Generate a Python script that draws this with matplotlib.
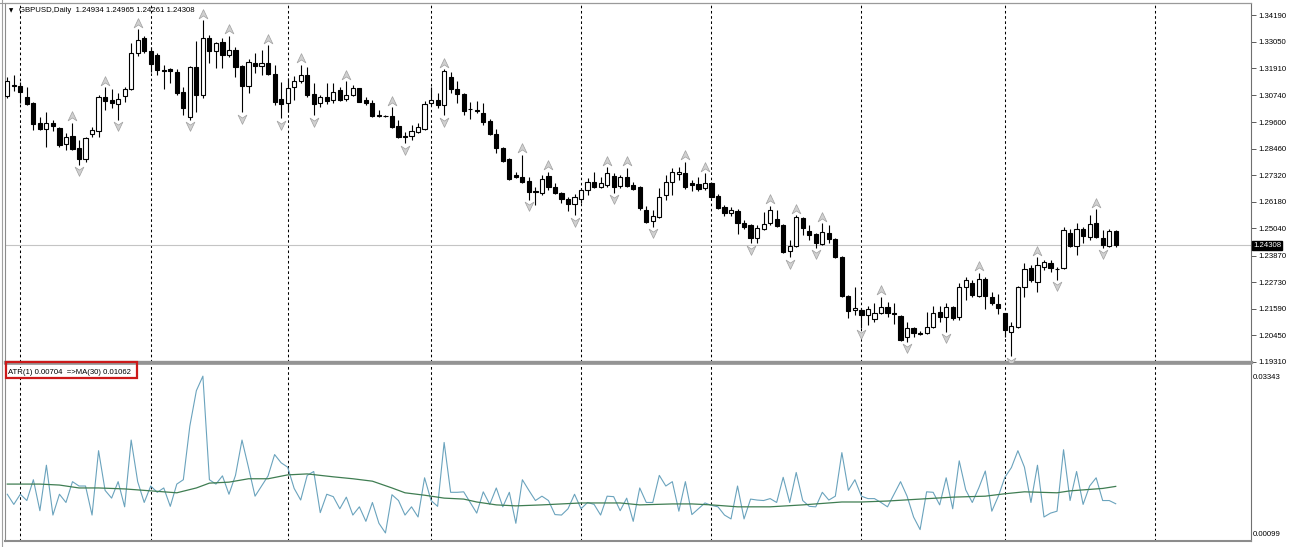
import numpy as np
import matplotlib
matplotlib.use("Agg")
import matplotlib.pyplot as plt
from matplotlib.path import Path
from matplotlib.patches import Rectangle
from matplotlib.lines import Line2D
from matplotlib.transforms import offset_copy

# ============================================================
# DATA  (GBPUSD daily)
# ============================================================
opens = [1.3072, 1.3119, 1.3115, 1.3067, 1.3042, 1.2956, 1.2930, 1.2956, 1.2935, 1.2866,
         1.2900, 1.2849, 1.2802, 1.2909, 1.2922, 1.3067, 1.3055, 1.3037, 1.3072, 1.3102,
         1.3256, 1.3320, 1.3265, 1.3247, 1.3183, 1.3187, 1.3175, 1.3089, 1.2982, 1.3196,
         1.3076, 1.3320, 1.3265, 1.3303, 1.3247, 1.3269, 1.3200, 1.3115, 1.3213, 1.3200,
         1.3213, 1.3166, 1.3059, 1.3042, 1.3110, 1.3136, 1.3162, 1.3080, 1.3042, 1.3067,
         1.3055, 1.3097, 1.3059, 1.3076, 1.3106, 1.3055, 1.3042, 1.2990, 1.2988, 1.2986,
         1.2943, 1.2900, 1.2900, 1.2917, 1.2930, 1.3042, 1.3055, 1.3033, 1.3153, 1.3102,
         1.3080, 1.3016, 1.3012, 1.2999, 1.2965, 1.2909, 1.2849, 1.2802, 1.2733, 1.2724,
         1.2707, 1.2664, 1.2656, 1.2729, 1.2681, 1.2656, 1.2630, 1.2609, 1.2630, 1.2669,
         1.2703, 1.2681, 1.2690, 1.2729, 1.2686, 1.2724, 1.2690, 1.2681, 1.2583, 1.2536,
         1.2553, 1.2647, 1.2703, 1.2737, 1.2741, 1.2699, 1.2694, 1.2677, 1.2699, 1.2643,
         1.2596, 1.2570, 1.2579, 1.2527, 1.2519, 1.2463, 1.2501, 1.2527, 1.2544, 1.2519,
         1.2407, 1.2428, 1.2548, 1.2493, 1.2480, 1.2437, 1.2484, 1.2459, 1.2381, 1.2214,
         1.2154, 1.2154, 1.2133, 1.2115, 1.2141, 1.2167, 1.2141, 1.2128, 1.2038, 1.2077,
         1.2055, 1.2055, 1.2081, 1.2146, 1.2124, 1.2167, 1.2124, 1.2253, 1.2270, 1.2214,
         1.2287, 1.2210, 1.2180, 1.2141, 1.2060, 1.2081, 1.2253, 1.2334, 1.2274, 1.2338,
         1.2356, 1.2330, 1.2334, 1.2484, 1.2428, 1.2501, 1.2467, 1.2527, 1.2463, 1.2428,
         1.24934]
highs = [1.3153, 1.3162, 1.3132, 1.3110, 1.3046, 1.2982, 1.3003, 1.2969, 1.2939, 1.2913,
         1.2956, 1.2883, 1.2896, 1.2939, 1.3076, 1.3110, 1.3102, 1.3085, 1.3110, 1.3299,
         1.3359, 1.3329, 1.3282, 1.3256, 1.3205, 1.3192, 1.3187, 1.3110, 1.3200, 1.3307,
         1.3397, 1.3333, 1.3303, 1.3320, 1.3329, 1.3282, 1.3205, 1.3230, 1.3256, 1.3269,
         1.3290, 1.3205, 1.3132, 1.3149, 1.3157, 1.3205, 1.3196, 1.3127, 1.3076, 1.3127,
         1.3127, 1.3110, 1.3136, 1.3119, 1.3108, 1.3067, 1.3055, 1.3012, 1.2991, 1.3024,
         1.2969, 1.2917, 1.2947, 1.2956, 1.3050, 1.3110, 1.3085, 1.3187, 1.3175, 1.3136,
         1.3085, 1.3046, 1.3050, 1.3042, 1.2973, 1.2930, 1.2853, 1.2806, 1.2746, 1.2819,
         1.2724, 1.2681, 1.2733, 1.2746, 1.2699, 1.2660, 1.2639, 1.2651, 1.2673, 1.2720,
         1.2746, 1.2724, 1.2767, 1.2741, 1.2733, 1.2763, 1.2703, 1.2686, 1.2600, 1.2583,
         1.2677, 1.2733, 1.2763, 1.2767, 1.2789, 1.2712, 1.2724, 1.2741, 1.2703, 1.2651,
         1.2604, 1.2596, 1.2587, 1.2540, 1.2521, 1.2519, 1.2574, 1.2600, 1.2583, 1.2523,
         1.2454, 1.2561, 1.2553, 1.2519, 1.2484, 1.2527, 1.2519, 1.2463, 1.2386, 1.2218,
         1.2253, 1.2163, 1.2171, 1.2184, 1.2210, 1.2188, 1.2184, 1.2133, 1.2103, 1.2081,
         1.2064, 1.2146, 1.2171, 1.2171, 1.2184, 1.2171, 1.2270, 1.2296, 1.2283, 1.2313,
         1.2296, 1.2231, 1.2223, 1.2143, 1.2103, 1.2257, 1.2356, 1.2347, 1.2381, 1.2368,
         1.2368, 1.2338, 1.2510, 1.2501, 1.2527, 1.2510, 1.2561, 1.2587, 1.2497, 1.2501,
         1.24965]
lows = [1.3063, 1.3093, 1.3042, 1.3033, 1.2926, 1.2926, 1.2853, 1.2922, 1.2853, 1.2840,
        1.2840, 1.2776, 1.2789, 1.2896, 1.2896, 1.3012, 1.3020, 1.2969, 1.3046, 1.3097,
        1.3243, 1.3256, 1.3175, 1.3162, 1.3102, 1.3127, 1.3076, 1.2990, 1.2969, 1.3003,
        1.3063, 1.3213, 1.3192, 1.3192, 1.3239, 1.3153, 1.3003, 1.3085, 1.3170, 1.3162,
        1.3162, 1.3033, 1.2977, 1.3003, 1.3055, 1.3127, 1.3067, 1.2990, 1.3024, 1.3037,
        1.3042, 1.3050, 1.3052, 1.3072, 1.3044, 1.3033, 1.2982, 1.2982, 1.2981, 1.2935,
        1.2892, 1.2870, 1.2883, 1.2913, 1.2926, 1.3033, 1.3020, 1.2990, 1.3085, 1.3042,
        1.2990, 1.2973, 1.2999, 1.2947, 1.2904, 1.2827, 1.2789, 1.2712, 1.2720, 1.2699,
        1.2626, 1.2604, 1.2647, 1.2669, 1.2651, 1.2613, 1.2579, 1.2561, 1.2613, 1.2647,
        1.2677, 1.2677, 1.2681, 1.2656, 1.2677, 1.2681, 1.2669, 1.2583, 1.2527, 1.2510,
        1.2548, 1.2626, 1.2647, 1.2712, 1.2673, 1.2664, 1.2664, 1.2669, 1.2636, 1.2587,
        1.2557, 1.2557, 1.2480, 1.2501, 1.2441, 1.2441, 1.2497, 1.2519, 1.2510, 1.2398,
        1.2381, 1.2426, 1.2476, 1.2454, 1.2420, 1.2433, 1.2441, 1.2377, 1.2210, 1.2120,
        1.2133, 1.2077, 1.2090, 1.2103, 1.2137, 1.2124, 1.2094, 1.2021, 1.2017, 1.2038,
        1.2047, 1.2051, 1.2077, 1.2103, 1.2060, 1.2111, 1.2111, 1.2197, 1.2210, 1.2210,
        1.2158, 1.2176, 1.2137, 1.2038, 1.1958, 1.2077, 1.2210, 1.2274, 1.2231, 1.2325,
        1.2317, 1.2283, 1.2330, 1.2424, 1.2390, 1.2441, 1.2454, 1.2463, 1.2420, 1.2424,
        1.24261]
closes = [1.3136, 1.3115, 1.3089, 1.3037, 1.2952, 1.2930, 1.2956, 1.2943, 1.2862, 1.2896,
          1.2844, 1.2802, 1.2892, 1.2926, 1.3067, 1.3050, 1.3042, 1.3059, 1.3102, 1.3256,
          1.3312, 1.3265, 1.3209, 1.3183, 1.3181, 1.3179, 1.3085, 1.3020, 1.3196, 1.3076,
          1.3320, 1.3265, 1.3299, 1.3247, 1.3269, 1.3196, 1.3115, 1.3217, 1.3200, 1.3213,
          1.3166, 1.3046, 1.3037, 1.3106, 1.3136, 1.3162, 1.3076, 1.3037, 1.3067, 1.3050,
          1.3089, 1.3055, 1.3076, 1.3106, 1.3046, 1.3042, 1.2986, 1.2988, 1.2985, 1.2939,
          1.2896, 1.2896, 1.2922, 1.2939, 1.3037, 1.3055, 1.3033, 1.3179, 1.3102, 1.3080,
          1.3007, 1.3014, 1.3007, 1.2960, 1.2909, 1.2849, 1.2793, 1.2716, 1.2724, 1.2703,
          1.2660, 1.2660, 1.2716, 1.2681, 1.2656, 1.2630, 1.2609, 1.2639, 1.2669, 1.2703,
          1.2681, 1.2699, 1.2741, 1.2681, 1.2724, 1.2686, 1.2673, 1.2591, 1.2531, 1.2557,
          1.2639, 1.2703, 1.2746, 1.2746, 1.2681, 1.2690, 1.2673, 1.2699, 1.2639, 1.2591,
          1.2570, 1.2583, 1.2527, 1.2510, 1.2463, 1.2506, 1.2523, 1.2583, 1.2514, 1.2403,
          1.2428, 1.2553, 1.2506, 1.2476, 1.2441, 1.2489, 1.2459, 1.2381, 1.2214, 1.2150,
          1.2163, 1.2133, 1.2159, 1.2141, 1.2167, 1.2141, 1.2137, 1.2025, 1.2077, 1.2055,
          1.2053, 1.2081, 1.2141, 1.2124, 1.2167, 1.2120, 1.2253, 1.2283, 1.2218, 1.2287,
          1.2214, 1.2184, 1.2163, 1.2068, 1.2086, 1.2253, 1.2330, 1.2283, 1.2347, 1.2360,
          1.2334, 1.2328, 1.2497, 1.2428, 1.2501, 1.2471, 1.2523, 1.2467, 1.2433, 1.2493,
          1.24308]

# Bill Williams fractals (bar indices)
fractal_up = [10, 15, 20, 30, 34, 40, 45, 52, 59, 67, 79, 83, 92, 95, 104, 107,
              117, 121, 125, 134, 149, 158, 167]
fractal_down = [11, 17, 28, 36, 42, 47, 61, 67, 80, 87, 93, 99, 114, 120, 124,
                131, 138, 144, 154, 161, 168]

# first bar of each month (period separators)
month_start_bars = [2, 22, 43, 65, 88, 108, 131, 153, 176]

# MA(30) of ATR, sampled off the indicator window
ma_bars = [0, 5, 8, 11, 14, 18, 22, 26, 29, 31, 34, 37, 40, 43, 46, 50, 53, 56, 59,
           61, 64, 67, 70, 72, 75, 78, 82, 85, 88, 91, 94, 97, 102, 105, 108, 112,
           117, 122, 128, 131, 135, 140, 145, 150, 153, 156, 161, 163, 168, 170]
ma_vals = [0.0111, 0.0111, 0.0109, 0.0103, 0.0103, 0.0101, 0.0097, 0.0093, 0.0103,
           0.0113, 0.0115, 0.0122, 0.0122, 0.0130, 0.0132, 0.0126, 0.0122, 0.0117,
           0.0103, 0.0093, 0.0088, 0.0082, 0.0080, 0.0074, 0.0068, 0.0066, 0.0068,
           0.0070, 0.0072, 0.0072, 0.0072, 0.0068, 0.0070, 0.0070, 0.0068, 0.0064,
           0.0064, 0.0068, 0.0074, 0.0074, 0.0076, 0.0080, 0.0084, 0.0086, 0.0091,
           0.0095, 0.0093, 0.0097, 0.0102, 0.01062]

price_ticks = [1.34190, 1.33050, 1.31910, 1.30740, 1.29600, 1.28460, 1.27320,
               1.26180, 1.25040, 1.23870, 1.22730, 1.21590, 1.20450, 1.19310]
atr_ticks = [0.03343, 0.00099]
last_price = 1.24308

# ============================================================
# DERIVED
# ============================================================
o = np.array(opens)
h = np.array(highs)
l = np.array(lows)
c = np.array(closes)
x = np.arange(len(o))
prev_c = np.r_[c[0], c[:-1]]
atr1 = np.maximum(h, prev_c) - np.minimum(l, prev_c)   # ATR(1) = true range

# ============================================================
# FIGURE
# ============================================================
W, H = 1290, 547
fig = plt.figure(figsize=(W / 100, H / 100), dpi=100)
plt.rcParams['font.family'] = ['Liberation Sans', 'DejaVu Sans']

def fy(py):
    return 1 - py / H

ax = fig.add_axes([5 / W, fy(362), (1251 - 5) / W, (362 - 3) / H])
ax2 = fig.add_axes([5 / W, fy(541), (1251 - 5) / W, (541 - 364) / H])

xlim = (-0.35, 190.75)
for a in (ax, ax2):
    a.set_xlim(*xlim)
    a.set_xticks([])
    for b in month_start_bars:
        a.axvline(b, color='black', lw=0.75, ls=(0, (2.5, 2.5)), zorder=1)
    a.yaxis.tick_right()
    for s in ('top', 'bottom', 'left'):
        a.spines[s].set_color('#8c8c8c')
    a.spines['right'].set_color('#707070')
    a.spines['right'].set_linewidth(0.8)

# ----- price panel -----
ax.set_ylim(1.1931, 1.34705)
ax.axhline(last_price, color='#c4c4c4', lw=0.8, zorder=1)

up = c >= o
ax.vlines(x, l, h, color='black', lw=0.8, zorder=2)
ax.bar(x[up], c[up] - o[up], bottom=o[up], width=0.64, color='white',
       edgecolor='black', lw=0.8, zorder=3)
ax.bar(x[~up], o[~up] - c[~up], bottom=c[~up], width=0.64, color='black',
       edgecolor='black', lw=0.8, zorder=3)

arrow_up = Path([(0, 1), (0.9, -0.9), (0, -0.3), (-0.9, -0.9), (0, 1)],
                [Path.MOVETO, Path.LINETO, Path.LINETO, Path.LINETO, Path.CLOSEPOLY])
arrow_dn = Path([(0, -1), (0.9, 0.9), (0, 0.3), (-0.9, 0.9), (0, -1)],
                [Path.MOVETO, Path.LINETO, Path.LINETO, Path.LINETO, Path.CLOSEPOLY])
tr_up = offset_copy(ax.transData, fig=fig, x=0, y=6.5, units='dots')
tr_dn = offset_copy(ax.transData, fig=fig, x=0, y=-6.5, units='dots')
ax.plot(fractal_up, h[fractal_up], ls='none', marker=arrow_up, ms=7,
        mfc='#d0d0d0', mec='#a0a0a0', mew=0.5, transform=tr_up, zorder=4)
ax.plot(fractal_down, l[fractal_down], ls='none', marker=arrow_dn, ms=7,
        mfc='#d0d0d0', mec='#a0a0a0', mew=0.5, transform=tr_dn, zorder=4)

ax.set_yticks(price_ticks)
ax.set_yticklabels([f'{v:.5f}' for v in price_ticks])
ax.tick_params(axis='y', length=3.5, width=0.6, color='#404040', pad=1.5,
               labelsize=5.6)
ax.spines['bottom'].set_linewidth(2.4)
ax.spines['bottom'].set_color('#949494')

ax.text(1.0015, last_price, f'{last_price:.5f}', transform=ax.get_yaxis_transform(),
        ha='left', va='center', fontsize=5.6, color='white', clip_on=False,
        bbox=dict(boxstyle='square,pad=0.15', fc='black', ec='black'), zorder=6)

# ----- ATR panel -----
ax2.set_ylim(-0.00066, 0.03591)
ax2.plot(x, atr1, color='#6aa3bd', lw=0.8, zorder=3)
ax2.plot(ma_bars, ma_vals, color='#3f7d52', lw=0.9, zorder=4)
ax2.set_yticks(atr_ticks)
ax2.set_yticklabels([f'{v:.5f}' for v in atr_ticks])
ax2.tick_params(axis='y', length=0, pad=1.5, labelsize=5.6)
ax2.spines['top'].set_linewidth(1.2)
ax2.spines['top'].set_color('#949494')
ax2.spines['bottom'].set_linewidth(1.5)

# ----- window chrome and labels -----
fig.add_artist(Line2D([1.5 / W, 1.5 / W], [0, 1], color='#a0a0a0', lw=0.8))
fig.add_artist(Line2D([0, 1251 / W], [fy(2.5), fy(2.5)], color='#9a9a9a', lw=0.8))

fig.text(11 / W, fy(10.5), '\u25bc', fontsize=4, ha='center', va='center',
         family=['DejaVu Sans'])
fig.text(19 / W, fy(10.5),
         f'GBPUSD,Daily  {o[-1]:.5f} {h[-1]:.5f} {l[-1]:.5f} {c[-1]:.5f}',
         fontsize=5.6, ha='left', va='center')

fig.text(8.5 / W, fy(372.5),
         f'ATR(1) {atr1[-1]:.5f}  =>MA(30) {ma_vals[-1]:.5f}',
         fontsize=5.6, ha='left', va='center', zorder=7,
         bbox=dict(boxstyle='square,pad=0.1', fc='white', ec='none'))
fig.add_artist(Rectangle((6 / W, fy(378)), 131 / W, 16 / H, fill=False,
                         ec='#cc1a1a', lw=1.6, transform=fig.transFigure, zorder=8))

fig.savefig('out.png', dpi=100)
